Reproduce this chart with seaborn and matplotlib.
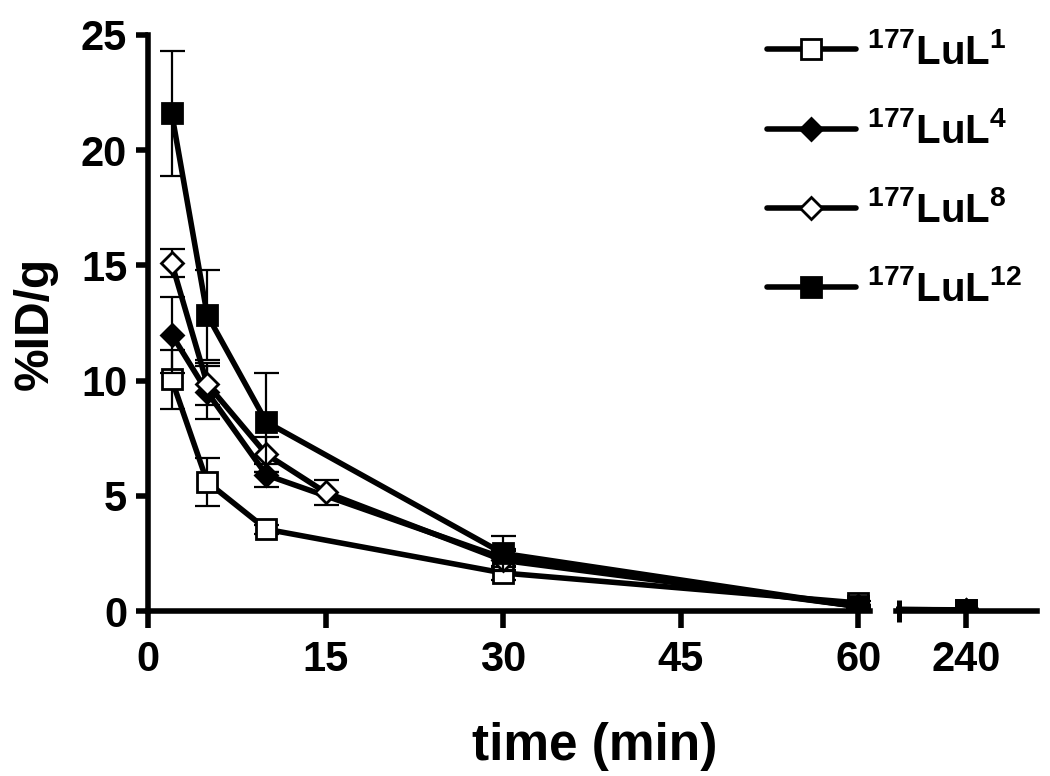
import numpy as np
import matplotlib
matplotlib.use("Agg")
import matplotlib.pyplot as plt
import seaborn as sns

# time points (min)
t_l1 = [2, 5, 10, 30, 60, 240]
t_l4 = [2, 5, 10, 30, 60, 240]
t_l8 = [2, 5, 10, 15, 30, 60, 240]
t_l12 = [2, 5, 10, 30, 60, 240]

# %ID/g mean and SD
l1_mean = [10.05, 5.6, 3.55, 1.65, 0.35, 0.05]
l1_sd = [1.3, 1.05, 0.2, 0.3, 0.1, 0.02]
l4_mean = [12.0, 9.5, 5.9, 2.3, 0.2, 0.05]
l4_sd = [1.65, 1.15, 0.5, 0.4, 0.05, 0.02]
l8_mean = [15.1, 9.85, 6.8, 5.15, 2.2, 0.2, 0.05]
l8_sd = [0.6, 0.9, 0.75, 0.55, 0.4, 0.05, 0.02]
l12_mean = [21.6, 12.85, 8.2, 2.5, 0.2, 0.05]
l12_sd = [2.7, 1.95, 2.15, 0.75, 0.05, 0.02]

labels = [r"$^{177}$LuL$^{1}$", r"$^{177}$LuL$^{4}$",
          r"$^{177}$LuL$^{8}$", r"$^{177}$LuL$^{12}$"]

sns.set_style("ticks")
plt.rcParams['font.family'] = ['Liberation Sans', 'DejaVu Sans']
plt.rcParams['font.weight'] = 'bold'
plt.rcParams['mathtext.fontset'] = 'custom'
plt.rcParams['mathtext.rm'] = 'Liberation Sans:bold'
plt.rcParams['mathtext.it'] = 'Liberation Sans:bold'
plt.rcParams['mathtext.bf'] = 'Liberation Sans:bold'
for k in ['text.color', 'axes.labelcolor', 'xtick.color', 'ytick.color', 'axes.edgecolor']:
    plt.rcParams[k] = 'black'

fig = plt.figure(figsize=(10.5, 7.76), dpi=100)
ax = fig.add_axes([0.141, 0.2126, 0.6876, 0.7423])
ax2 = fig.add_axes([0.8533, 0.2126, 0.1343, 0.7423])

series = [
    (t_l1, l1_mean, l1_sd, dict(marker='s', ms=15, mfc='white')),
    (t_l4, l4_mean, l4_sd, dict(marker='D', ms=11, mfc='black')),
    (t_l8, l8_mean, l8_sd, dict(marker='D', ms=11, mfc='white')),
    (t_l12, l12_mean, l12_sd, dict(marker='s', ms=15, mfc='black')),
]

for a in (ax, ax2):
    for i, (t, m, sd, mk) in enumerate(series):
        a.errorbar(t, m, yerr=sd, fmt='none', ecolor='black', elinewidth=1.6,
                   capsize=9, capthick=1.6, zorder=2 + i)
        sns.lineplot(x=t, y=m, ax=a, color='black', lw=4, mec='black', mew=2,
                     label=labels[i] if a is ax else None, zorder=2.5 + i,
                     legend=False, **mk)

ax.set_xlim(0, 61)
ax.set_ylim(0, 25)
ax2.set_xlim(230, 250)
ax2.set_ylim(0, 25)

ax.set_xticks([0, 15, 30, 45, 60])
ax.set_yticks([0, 5, 10, 15, 20, 25])
ax2.set_xticks([240])
ax2.set_yticks([])
ax2.set_xticks([230.4], minor=True)

for s in ['top', 'right']:
    ax.spines[s].set_visible(False)
for s in ['top', 'right', 'left']:
    ax2.spines[s].set_visible(False)
for a in (ax, ax2):
    a.spines['bottom'].set_linewidth(4)
    a.tick_params(axis='x', length=12, width=4, labelsize=30, pad=9)
ax.spines['left'].set_linewidth(4)
ax.tick_params(axis='y', length=9, width=4, labelsize=30, pad=6)
ax2.tick_params(axis='x', which='minor', direction='inout', length=16, width=3.6)

ax.set_ylabel("%ID/g", fontsize=34.5, fontweight='bold')
ax.yaxis.set_label_coords(-0.1247, 0.5)
fig.text(0.566, 0.0206, "time (min)", fontsize=37, fontweight='bold',
         ha='center', va='baseline')

handles, labs = ax.get_legend_handles_labels()
leg = fig.legend(handles, labs, loc='upper left', bbox_to_anchor=(0.7305, 0.958),
                 frameon=False, fontsize=29, handlelength=2.2, handletextpad=0.28,
                 labelspacing=1.0, borderpad=0, borderaxespad=0)

fig.savefig("out.png", dpi=100)
